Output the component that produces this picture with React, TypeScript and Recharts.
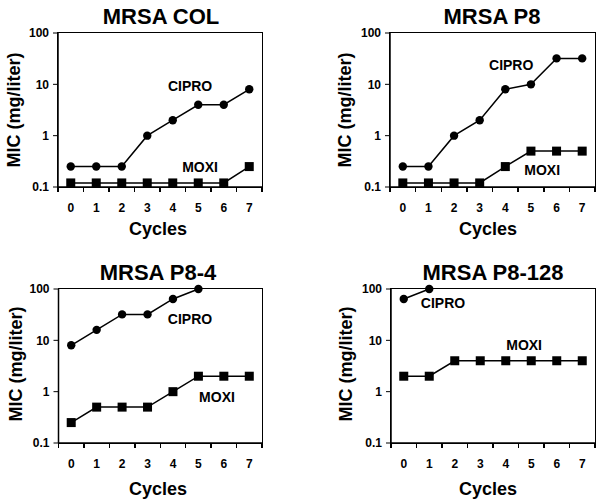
import React from 'react';
import { LineChart, Line, XAxis, YAxis, ReferenceDot } from 'recharts';

const cycles = [0, 1, 2, 3, 4, 5, 6, 7];
const yTicks = [0.1, 1, 10, 100];

const colCipro = [0.25, 0.25, 0.25, 1, 2, 4, 4, 8];
const colMoxi = [0.12, 0.12, 0.12, 0.12, 0.12, 0.12, 0.12, 0.25];
const p8Cipro = [0.25, 0.25, 1, 2, 8, 10, 32, 32];
const p8Moxi = [0.12, 0.12, 0.12, 0.12, 0.25, 0.5, 0.5, 0.5];
const p84Cipro = [8, 16, 32, 32, 64, 100, null, null];
const p84Moxi = [0.25, 0.5, 0.5, 0.5, 1, 2, 2, 2];
const p8128Cipro = [64, 100, null, null, null, null, null, null];
const p8128Moxi = [2, 2, 4, 4, 4, 4, 4, 4];

// label anchors in data units [cycle, MIC]
const colLabels = { cipro: [4.68, 9.3], moxi: [5.07, 0.245] };
const p8Labels = { cipro: [4.23, 24], moxi: [5.44, 0.214] };
const p84Labels = { cipro: [4.67, 26], moxi: [5.73, 0.79] };
const p8128Labels = { cipro: [1.54, 53], moxi: [4.72, 8.1] };

const build = (cipro: (number | null)[], moxi: (number | null)[]) =>
  cycles.map((c, i) => ({ cycle: c, cipro: cipro[i], moxi: moxi[i] }));

const FONT = '"Liberation Sans", Arial, sans-serif';
const INK = '#000';

const panels = [
  { title: 'MRSA COL', data: build(colCipro, colMoxi), labels: colLabels,
    L: 0, T: 0, W: 300, H: 250, pl: 58, pt: 33, pr: 262, pb: 187,
    titleX: 161, titleY: 17, ylX: 14, ylY: 110, cyX: 158, cyY: 229 },
  { title: 'MRSA P8', data: build(p8Cipro, p8Moxi), labels: p8Labels,
    L: 300, T: 0, W: 303, H: 250, pl: 390, pt: 33, pr: 595, pb: 187,
    titleX: 492, titleY: 17, ylX: 345, ylY: 110, cyX: 488, cyY: 229 },
  { title: 'MRSA P8-4', data: build(p84Cipro, p84Moxi), labels: p84Labels,
    L: 0, T: 252, W: 300, H: 252, pl: 58.5, pt: 289, pr: 262, pb: 443,
    titleX: 158, titleY: 273, ylX: 16, ylY: 364, cyX: 158, cyY: 489 },
  { title: 'MRSA P8-128', data: build(p8128Cipro, p8128Moxi), labels: p8128Labels,
    L: 300, T: 252, W: 303, H: 252, pl: 391, pt: 289, pr: 595, pb: 443,
    titleX: 493, titleY: 273, ylX: 346, ylY: 364, cyX: 488, cyY: 489 },
];

const XTick = (props: any) => {
  const { x, y, payload } = props;
  return (
    <text x={x} y={y + 25} textAnchor="middle" fontSize={12} fontWeight="bold" fill={INK} fontFamily={FONT}>
      {payload.value}
    </text>
  );
};

const CircleDot = (props: any) => {
  const { cx, cy, index } = props;
  if (cx == null || cy == null || isNaN(cy)) return <g key={index} />;
  return <circle key={index} cx={cx} cy={cy} r={4.2} fill={INK} />;
};

const SquareDot = (props: any) => {
  const { cx, cy, index } = props;
  if (cx == null || cy == null || isNaN(cy)) return <g key={index} />;
  return <rect key={index} x={cx - 4.5} y={cy - 4.5} width={9} height={9} fill={INK} />;
};

const textStyle = (x: number, y: number, size: number, rotate = false): React.CSSProperties => ({
  position: 'absolute',
  left: x,
  top: y,
  transform: `translate(-50%, -50%)${rotate ? ' rotate(-90deg)' : ''}`,
  fontFamily: FONT,
  fontWeight: 'bold',
  fontSize: size,
  lineHeight: 1,
  whiteSpace: 'nowrap',
  color: '#000',
});

const annotation = (value: string) => ({
  value,
  position: 'center' as const,
  fill: INK,
  fontSize: 14,
  fontWeight: 'bold',
  fontFamily: FONT,
});

// plot frame and band-boundary tick marks, drawn as page overlay
const Frame = ({ p }: { p: (typeof panels)[number] }) => {
  const band = (p.pr - p.pl) / cycles.length;
  const marks = [...cycles, cycles.length];
  return (
    <>
      <div
        style={{
          position: 'absolute',
          left: p.pl - 0.75,
          top: p.pt - 0.75,
          width: p.pr - p.pl,
          height: p.pb - p.pt,
          border: '1.5px solid #000',
          pointerEvents: 'none',
        }}
      />
      {marks.map((i) => (
        <div
          key={i}
          style={{
            position: 'absolute',
            left: p.pl + i * band - 0.75,
            top: p.pb,
            width: 1.5,
            height: 5,
            background: '#000',
          }}
        />
      ))}
    </>
  );
};

export default function App() {
  return (
    <div style={{ position: 'absolute', left: 0, top: 0, width: 603, height: 504, background: '#fff' }}>
      {panels.map((p) => {
        const xAxisH = 30;
        const margin = {
          top: p.pt - p.T,
          right: p.L + p.W - p.pr,
          bottom: p.T + p.H - p.pb - xAxisH,
          left: 0,
        };
        return (
          <React.Fragment key={p.title}>
            <div style={{ position: 'absolute', left: p.L, top: p.T }}>
              <LineChart width={p.W} height={p.H} data={p.data} margin={margin}>
                <XAxis
                  dataKey="cycle"
                  type="number"
                  domain={[-0.5, 7.5]}
                  ticks={cycles}
                  interval={0}
                  tickLine={false}
                  tickSize={0}
                  tickMargin={0}
                  tick={<XTick />}
                  height={xAxisH}
                  axisLine={{ stroke: INK, strokeWidth: 1.5 }}
                />
                <YAxis
                  scale="log"
                  type="number"
                  domain={[0.1, 100]}
                  ticks={yTicks}
                  interval={0}
                  width={p.pl - p.L}
                  tickSize={5}
                  tickMargin={4}
                  tickLine={{ stroke: INK }}
                  axisLine={{ stroke: INK, strokeWidth: 1.5 }}
                  tick={{ fill: INK, fontSize: 12, fontWeight: 'bold', fontFamily: FONT }}
                  tickFormatter={(v: number) => String(v)}
                />
                <Line type="linear" dataKey="cipro" stroke={INK} strokeWidth={1.5} dot={<CircleDot />} activeDot={false} isAnimationActive={false} />
                <Line type="linear" dataKey="moxi" stroke={INK} strokeWidth={1.5} dot={<SquareDot />} activeDot={false} isAnimationActive={false} />
                <ReferenceDot x={p.labels.cipro[0]} y={p.labels.cipro[1]} r={0} fill="none" stroke="none" label={annotation('CIPRO')} />
                <ReferenceDot x={p.labels.moxi[0]} y={p.labels.moxi[1]} r={0} fill="none" stroke="none" label={annotation('MOXI')} />
              </LineChart>
            </div>
            <Frame p={p} />
            <div style={textStyle(p.titleX, p.titleY, 22)}>{p.title}</div>
            <div style={textStyle(p.ylX, p.ylY, 18, true)}>MIC (mg/liter)</div>
            <div style={textStyle(p.cyX, p.cyY, 18)}>Cycles</div>
          </React.Fragment>
        );
      })}
    </div>
  );
}
